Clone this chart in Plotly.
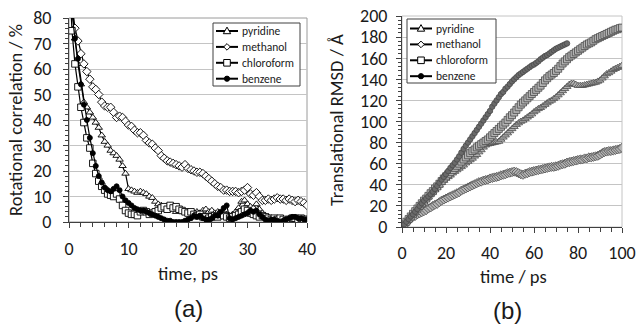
import plotly.graph_objects as go

# ---------------- data: (a) rotational correlation, sampled every 0.5 ps ----------------
rot_step = 0.5
rot_pyridine = [100, 85, 72, 62, 54, 47, 45, 43, 41, 39, 37, 34, 31.5, 30, 28, 27, 26, 24.5, 22, 19,
                13, 12.5, 12, 11.5, 12, 11.5, 11, 10, 9.5, 8, 7, 6.5, 5.5, 6, 6.5, 5, 4, 5, 4, 4,
                3.5, 3, 3.5, 4, 3.5, 4.5, 5, 4, 4.5, 3.5, 4, 3, 3.5, 3, 2.5, 3, 4, 5.5, 8, 8.5,
                7, 6, 5.5, 7, 5, 3.5, 2.5, 2, 1.5, 1, 1, 0.5, 1, 0.5, 1, 1.5, 1, 0.5, 1, 0.5, 1]
rot_methanol = [100, 86, 76, 71, 66, 62, 59, 56, 53, 52, 50, 47, 45.5, 45, 45, 43, 41, 41.5, 41, 39.5,
                38, 37.5, 36, 35, 35, 34, 32, 31, 30.5, 29, 28, 26, 25, 24, 23.5, 23, 22.5, 22, 21.5, 22.5,
                21, 20.5, 20, 19.5, 19.5, 19, 18, 17, 16, 15, 14, 13.5, 12.5, 12.5, 12, 12, 12, 11.5, 12, 12.5,
                13.5, 11, 10.5, 11.5, 10, 8.5, 8.5, 9, 8.5, 9, 9.5, 9, 9, 8.5, 9, 8.5, 8, 8.5, 8, 7.5, 6.5]
rot_chloroform = [100, 75, 62, 53, 45, 39, 33, 29, 23, 19, 16, 14, 12.5, 11, 10.5, 10, 11, 9, 6.5, 4.5,
                  3.5, 3, 3, 2.5, 4, 4.5, 4, 3, 3.5, 4, 4.5, 5.5, 6, 5, 6.5, 5.5, 6, 5, 4.5, 4,
                  3.5, 4, 3, 2.5, 3, 2, 2, 1.5, 2, 2.5, 2, 3, 2.5, 2, 1.5, 2, 2.5, 3, 4, 5,
                  4.5, 3.5, 3, 2.5, 2, 2.5, 2, 1.5, 1, 1.5, 1, 1.5, 1, 0.5, 1, 1.5, 1.5, 1, 1.5, 1, 1]
rot_benzene = [100, 82, 72, 64, 54, 46, 40, 33, 27, 22, 18, 15.5, 13.5, 12.5, 12, 13, 14, 12.5, 10, 8.5,
               7.5, 6.5, 5.5, 5, 4.5, 4.5, 4, 3.5, 3, 2.5, 2, 1.5, 1, 0.5, 0.5, 0, 0, 0, 0, 0.5,
               1, 1.5, 2.5, 2, 2.5, 1.5, 1, 1, 1.5, 2.5, 2.5, 4, 5.5, 6.5, 1.5, 1, 1.5, 2, 2.5, 3,
               3.5, 4.5, 4, 4.5, 3, 2, 1, 0.5, 1, 1, 0.5, 0, 0.5, 1, 1.5, 2, 2, 1.5, 1.5, 1, 1]

# ---------------- data: (b) translational RMSD, sampled every 1 ps ----------------
rmsd_step = 1.0
rmsd_pyridine = [0, 2.4, 4.8, 7.2, 9.6, 12, 14.4, 16.8, 19.2, 21.6, 24,
                 26.5, 28.5, 31, 33, 35.5, 37.5, 39.5, 42, 44, 46,
                 47.5, 49, 51, 52.5, 54, 55.5, 57, 58.5, 60.5, 62,
                 63.5, 65, 67, 68.5, 71, 73, 75.5, 77.5, 78.5, 79,
                 79.5, 80, 80.5, 81, 83, 85, 87, 89, 91, 93,
                 95, 97, 98.5, 100, 101, 102.5, 104, 105.5, 107, 109,
                 110.5, 112, 113, 114.5, 116, 117.5, 119, 120, 121.5, 123,
                 125, 127, 129, 131, 133, 135, 136, 136, 135, 134,
                 134, 134, 134.5, 135, 135.5, 136, 136.5, 137, 138, 139,
                 141, 143, 145, 146, 147.5, 149, 150, 151, 152, 153]
rmsd_methanol = [0, 2, 4, 6, 8, 9.5, 10.5, 12, 13, 14, 15,
                 16, 17.5, 18.5, 20, 21, 22, 23.5, 25, 26, 27,
                 28, 29, 30, 31, 32, 33, 34.5, 35.5, 36.5, 37.5,
                 38.5, 39.5, 40.5, 41.5, 42.5, 43, 44, 44.5, 45, 46,
                 46.5, 47, 47.5, 48, 49, 49.5, 50, 51, 51.5, 52,
                 52.5, 52, 51, 50, 49.5, 50.5, 51, 52, 52.5, 53,
                 53.5, 54, 54.5, 55, 55.5, 56, 56.5, 57, 57, 57.5,
                 58, 59, 59.5, 60, 61, 61.5, 62, 62.5, 63, 63.5,
                 64, 64, 65, 65, 66, 66, 66.5, 67, 67.5, 68.5,
                 70, 71, 71.5, 72, 72, 72.5, 73, 73.5, 74, 75]
rmsd_chloroform = [0, 2.5, 5, 7.5, 10, 12.5, 15, 17.5, 20, 22.5, 25,
                   27, 29.5, 32, 34, 36.5, 38.5, 41, 43.5, 46, 48,
                   50, 52, 54, 56, 58, 60, 62, 64, 66, 68,
                   70, 72, 73.5, 75.5, 77, 78.5, 80, 81.5, 83, 85,
                   87, 89, 91, 93, 95, 97, 99, 101.5, 104, 106,
                   108.5, 111, 113.5, 116, 118, 120, 122, 124, 126, 128,
                   130, 132, 134, 136.5, 139, 141, 143, 144.5, 146, 148,
                   150, 152.5, 155, 157, 159, 161, 162.5, 164, 165.5, 167,
                   168.5, 170, 171.5, 173, 174, 175, 176.5, 178, 179, 180,
                   181, 182, 183, 184, 185, 186, 187, 187.5, 188.5, 189]
rmsd_benzene = [0, 2.5, 5, 7.5, 10, 12, 14.5, 17, 20, 22.5, 25,
                27, 29, 31, 33.5, 36, 39, 42, 45, 47.5, 50,
                53, 56, 58.5, 61, 64, 67, 70.5, 74, 77, 80,
                83, 86, 89, 92, 95, 98, 101, 104, 107, 110,
                114, 117, 120, 123, 126, 128, 131, 133, 135.5, 138,
                140, 142, 144, 145.5, 147, 148.5, 150, 151.5, 153, 154,
                155.5, 157, 159, 160.5, 162, 163, 164.5, 166, 167.5, 169,
                170, 171, 172, 173, 174]

names = ["pyridine", "methanol", "chloroform", "benzene"]
symbols = ["triangle-up", "diamond", "square", "circle"]
rot_series = [rot_pyridine, rot_methanol, rot_chloroform, rot_benzene]
rmsd_series = [rmsd_pyridine, rmsd_methanol, rmsd_chloroform, rmsd_benzene]

FONT = "Carlito, Lato, 'Open Sans', sans-serif"
TXT = "#1a1a1a"
W, H = 638, 325

fig = go.Figure()

# (a)
for name, sym, vals in zip(names, symbols, rot_series):
    t = [i * rot_step for i in range(len(vals))]
    filled = sym == "circle"
    fig.add_trace(go.Scatter(
        x=t, y=vals, mode="lines+markers", name=name, xaxis="x", yaxis="y",
        line=dict(color="black", width=1.2),
        marker=dict(symbol=sym, size=5 if filled else 6.5,
                    color="black" if filled else "white",
                    line=dict(color="black", width=0.9)),
        showlegend=False))

# (b)
for name, sym, vals in zip(names, symbols, rmsd_series):
    t = [i * rmsd_step for i in range(len(vals))]
    filled = sym == "circle"
    fig.add_trace(go.Scatter(
        x=t, y=vals, mode="lines+markers", name=name, xaxis="x2", yaxis="y2",
        line=dict(color="#404040", width=1),
        marker=dict(symbol=sym, size=5.5 if filled else 7,
                    color="#6a6a6a" if filled else "#b4b4b4",
                    line=dict(color="#4a4a4a", width=0.8)),
        showlegend=False))

TICKFONT = dict(family=FONT, size=18, color=TXT)
ax_common = dict(showline=True, linecolor="#404040", linewidth=1, zeroline=False, automargin=False,
                 ticks="outside", tickcolor="#404040", ticklen=5, tickfont=TICKFONT)

shapes = [
    dict(type="rect", xref="x domain", yref="y domain", x0=0, x1=1, y0=0, y1=1,
         line=dict(color="#9a9a9a", width=1), layer="below"),
    dict(type="rect", xref="x2 domain", yref="y2 domain", x0=0, x1=1, y0=0, y1=1,
         line=dict(color="#c4c4c4", width=1), layer="below"),
]
annotations = []


def fx(px):
    return px / W


def fy(py):
    return 1 - py / H


def add_legend(left, top, right, bottom, first_offset, spacing):
    """Excel-style legend box drawn in paper coordinates."""
    shapes.append(dict(type="rect", xref="paper", yref="paper",
                       x0=fx(left), x1=fx(right), y0=fy(bottom), y1=fy(top),
                       fillcolor="white", line=dict(color="#404040", width=1), layer="above"))
    for i, (name, sym) in enumerate(zip(names, symbols)):
        yc = top + first_offset + i * spacing
        shapes.append(dict(type="line", xref="paper", yref="paper",
                           x0=fx(left + 3), x1=fx(left + 25), y0=fy(yc), y1=fy(yc),
                           line=dict(color="black", width=2), layer="above"))
        cx, r = left + 14, 3.3
        if sym == "triangle-up":
            path = (f"M {fx(cx - r - 0.4)} {fy(yc + r - 0.6)} L {fx(cx + r + 0.4)} {fy(yc + r - 0.6)} "
                    f"L {fx(cx)} {fy(yc - r - 0.6)} Z")
            shapes.append(dict(type="path", xref="paper", yref="paper", path=path,
                               fillcolor="white", line=dict(color="black", width=1), layer="above"))
        elif sym == "diamond":
            path = (f"M {fx(cx - r)} {fy(yc)} L {fx(cx)} {fy(yc - r)} L {fx(cx + r)} {fy(yc)} "
                    f"L {fx(cx)} {fy(yc + r)} Z")
            shapes.append(dict(type="path", xref="paper", yref="paper", path=path,
                               fillcolor="white", line=dict(color="black", width=1), layer="above"))
        elif sym == "square":
            shapes.append(dict(type="rect", xref="paper", yref="paper",
                               x0=fx(cx - r), x1=fx(cx + r), y0=fy(yc + r), y1=fy(yc - r),
                               fillcolor="white", line=dict(color="black", width=1), layer="above"))
        else:
            shapes.append(dict(type="circle", xref="paper", yref="paper",
                               x0=fx(cx - 2.6), x1=fx(cx + 2.6), y0=fy(yc + 2.6), y1=fy(yc - 2.6),
                               fillcolor="black", line=dict(color="black", width=1), layer="above"))
        annotations.append(dict(text=name, x=fx(left + 27), y=fy(yc), xref="paper", yref="paper",
                                xanchor="left", yanchor="middle", showarrow=False,
                                font=dict(family=FONT, size=11.5, color=TXT)))


add_legend(213, 23, 300, 86, 8, 15.9)
add_legend(407, 19, 496, 83, 9.5, 15.9)


def label(text, cx, cy, size, angle=0, family=FONT):
    annotations.append(dict(text=text, x=fx(cx), y=fy(cy), xref="paper", yref="paper",
                            xanchor="center", yanchor="middle", textangle=angle,
                            showarrow=False, font=dict(family=family, size=size, color=TXT)))


label("Rotational correlation / %", 15, 120, 18.5, -90)
label("time, ps", 188, 273, 18.5)
label("(a)", 188, 308, 24, family="Liberation Sans, Arial")
label("Translational RMSD / Å", 336, 120, 18.5, -90)
label("time / ps", 513, 276, 18.5)
label("(b)", 507, 310, 24, family="Liberation Sans, Arial")

fig.update_layout(
    width=W, height=H, margin=dict(l=0, r=0, t=0, b=0, pad=0, autoexpand=False),
    paper_bgcolor="white", plot_bgcolor="white", showlegend=False,
    xaxis=dict(domain=[69 / W, 307 / W], range=[0, 40], dtick=10, anchor="y",
               showgrid=False, ticklabelstandoff=5,
               minor=dict(dtick=2, ticks="outside", ticklen=4, tickcolor="#404040"),
               **ax_common),
    yaxis=dict(domain=[(H - 222) / H, (H - 18) / H], range=[0, 80], dtick=10, anchor="x",
               showgrid=True, gridcolor="#c4c4c4", gridwidth=1, ticklabelstandoff=8,
               minor=dict(dtick=2, ticks="outside", ticklen=3, tickcolor="#404040"),
               **ax_common),
    xaxis2=dict(domain=[402 / W, 622 / W], range=[0, 100], dtick=20, anchor="y2",
                showgrid=False, ticklabelstandoff=4,
                minor=dict(dtick=5, ticks="outside", ticklen=4, tickcolor="#404040"),
                **ax_common),
    yaxis2=dict(domain=[(H - 227) / H, (H - 16) / H], range=[0, 200], dtick=20, anchor="x2",
                showgrid=True, gridcolor="#c4c4c4", gridwidth=1, ticklabelstandoff=5,
                minor=dict(dtick=4, ticks="outside", ticklen=3, tickcolor="#404040"),
                **ax_common),
    shapes=shapes,
    annotations=annotations,
)

fig.write_html("out.html", config={"displayModeBar": False})
